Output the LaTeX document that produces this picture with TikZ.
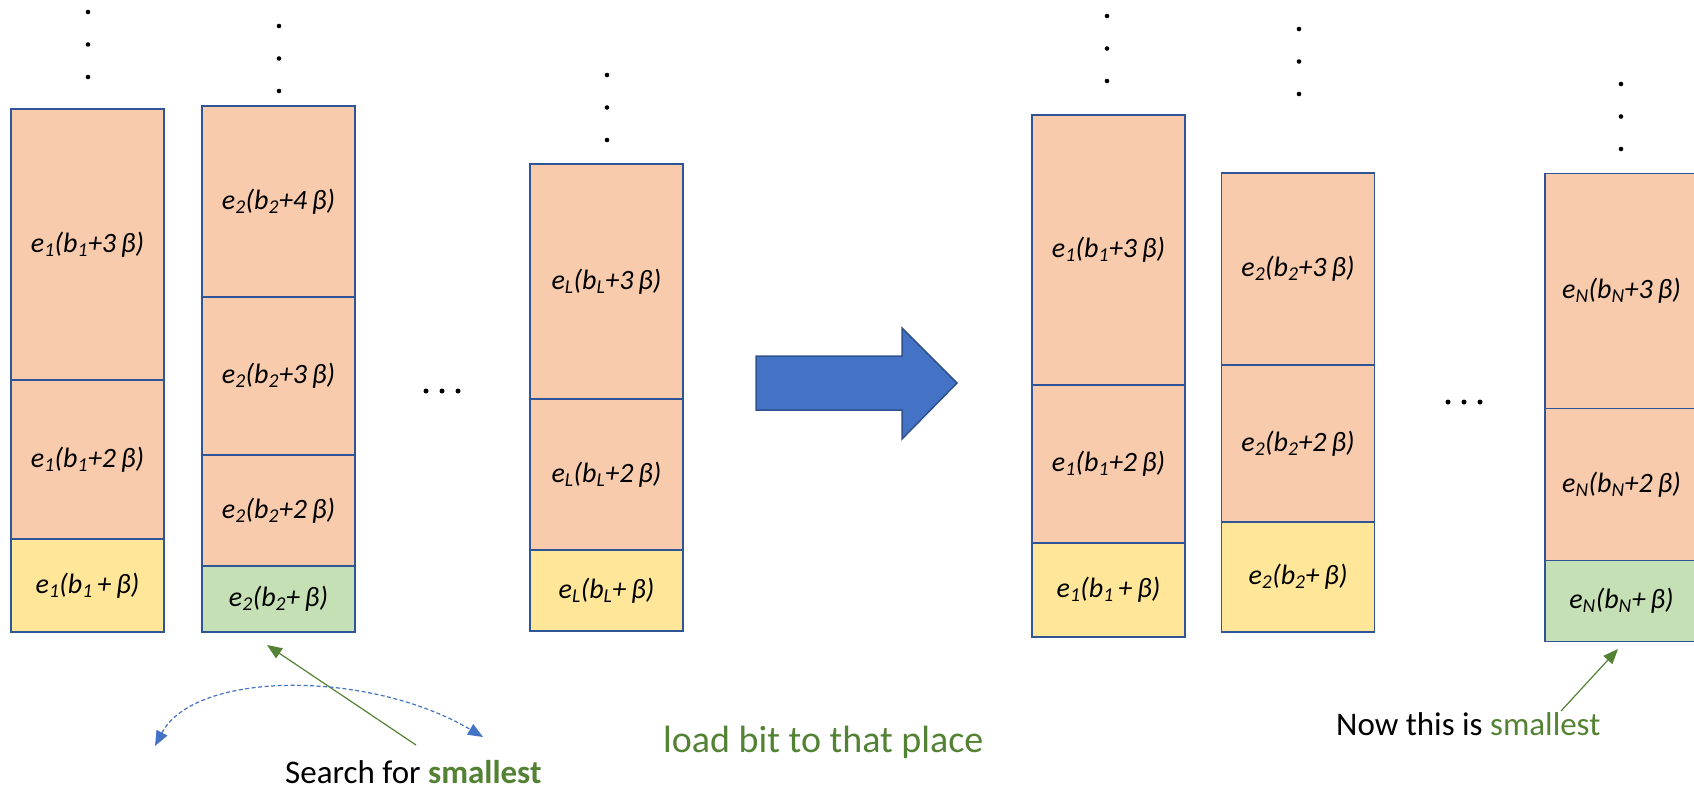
\documentclass[tikz,border=0pt]{standalone}
\usepackage{fontspec}
\setmainfont{Carlito}
\usetikzlibrary{arrows.meta}
\definecolor{peach}{HTML}{F8CBAD}
\definecolor{butter}{HTML}{FFE699}
\definecolor{mint}{HTML}{C5E0B4}
\definecolor{frameblue}{HTML}{2F5597}
\definecolor{arrowblue}{HTML}{4472C4}
\definecolor{arrowedge}{HTML}{2F528F}
\definecolor{leaf}{HTML}{548235}
% cell label: e_i(b_i <op> beta)
\newcommand{\entry}[2]{\textit{e\textsubscript{#1}(b\textsubscript{#1}#2\,β)}}
\tikzset{
  cell/.style={draw=frameblue, line width=1.8pt, minimum width=153pt,
    inner sep=0pt, font=\fontsize{28}{32}\selectfont},
  garrow/.style={draw=leaf, line width=1.2pt, -{Triangle[length=15pt,width=12pt]}},
  sweep/.style={draw=arrowblue, line width=1.2pt, dash pattern=on 4pt off 2.5pt,
    {Triangle[length=15pt,width=12pt]}-{Triangle[length=15pt,width=12pt]}},
}
\begin{document}
\begin{tikzpicture}[x=1pt,y=-1pt]
\useasboundingbox (0,0) rectangle (1694,788);

% vertical continuation dots above each column
\foreach \x/\y in {88/12, 279/26, 607/75, 1107/16, 1299/29, 1621/84}{
  \foreach \k in {0,1,2}{\fill (\x,\y+32.5*\k) circle (2.3);}
}
% horizontal ellipses between columns
\foreach \x in {426,442,458}{\fill (\x,391) circle (2.5);}
\foreach \x in {1448,1464,1480}{\fill (\x,402) circle (2.5);}

% ---- left side: buckets before the load ----
\node[cell, fill=peach,  minimum height=271pt] (a3) at (87.5,244.5) {\entry{1}{+3}};
\node[cell, fill=peach,  minimum height=159pt] (a2) at (87.5,459.5) {\entry{1}{+2}};
\node[cell, fill=butter, minimum height=93pt]  (a1) at (87.5,585.5) {\entry{1}{\,+}};

\node[cell, fill=peach, minimum height=191pt] (b4) at (278.5,201.5) {\entry{2}{+4}};
\node[cell, fill=peach, minimum height=158pt] (b3) at (278.5,376)   {\entry{2}{+3}};
\node[cell, fill=peach, minimum height=111pt] (b2) at (278.5,510.5) {\entry{2}{+2}};
\node[cell, fill=mint,  minimum height=66pt]  (b1) at (278.5,599)   {\entry{2}{+}};

\node[cell, fill=peach,  minimum height=235pt] (l3) at (606.5,281.5) {\entry{L}{+3}};
\node[cell, fill=peach,  minimum height=151pt] (l2) at (606.5,474.5) {\entry{L}{+2}};
\node[cell, fill=butter, minimum height=81pt]  (l1) at (606.5,590.5) {\entry{L}{+}};

% ---- big transition arrow ----
\fill[arrowblue, draw=arrowedge, line width=1.5pt]
  (756,356) -- (902,356) -- (902,328) -- (957,383) -- (902,439) -- (902,410) -- (756,410) -- cycle;

% ---- right side: buckets after the load ----
\node[cell, fill=peach,  minimum height=270pt] (p3) at (1108.5,250) {\entry{1}{+3}};
\node[cell, fill=peach,  minimum height=158pt] (p2) at (1108.5,464) {\entry{1}{+2}};
\node[cell, fill=butter, minimum height=94pt]  (p1) at (1108.5,590) {\entry{1}{\,+}};

\node[cell, fill=peach,  minimum height=192pt] (q3) at (1298,269)   {\entry{2}{+3}};
\node[cell, fill=peach,  minimum height=157pt] (q2) at (1298,443.5) {\entry{2}{+2}};
\node[cell, fill=butter, minimum height=110pt] (q1) at (1298,577)   {\entry{2}{+}};

\node[cell, fill=peach, minimum height=235pt] (n3) at (1621.5,291)   {\entry{N}{+3}};
\node[cell, fill=peach, minimum height=152pt] (n2) at (1621.5,484.5) {\entry{N}{+2}};
\node[cell, fill=mint,  minimum height=81pt]  (n1) at (1621.5,601)   {\entry{N}{+}};

% ---- annotations ----
\node[anchor=base west, inner sep=0pt, font=\fontsize{33}{38}\selectfont] (search)
  at (285,783) {Search for \textcolor{leaf}{\textbf{smallest}}};
\coordinate (searchTail) at (416,745);
\coordinate (searchTip) at (267,645);
\draw[garrow] (searchTail) -- (searchTip);

\coordinate (sweepL) at (155,746);
\coordinate (sweepR) at (483,737);
\draw[sweep] (sweepL) .. controls (195,670) and (370,670) .. (sweepR);

\node[anchor=base west, inner sep=0pt, text=leaf, font=\fontsize{38}{44}\selectfont] (load)
  at (663,752) {load bit to that place};

\node[anchor=base west, inner sep=0pt, font=\fontsize{33}{38}\selectfont] (now)
  at (1336,735) {Now this is \textcolor{leaf}{smallest}};
\coordinate (nowTail) at (1561,711);
\coordinate (nowTip) at (1618,649);
\draw[garrow] (nowTail) -- (nowTip);
\end{tikzpicture}
\end{document}
